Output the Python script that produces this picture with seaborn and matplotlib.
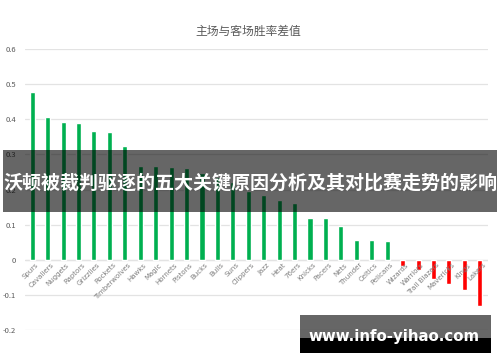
import matplotlib
matplotlib.use("Agg")
import matplotlib.pyplot as plt
import seaborn as sns
import pandas as pd
from matplotlib.patches import Rectangle

teams = ["Spurs", "Cavaliers", "Nuggets", "Raptors", "Grizzlies", "Rockets", "Timberwolves",
         "Hawks", "Magic", "Hornets", "Pistons", "Bucks", "Bulls", "Suns", "Clippers", "Jazz",
         "Heat", "76ers", "Knicks", "Pacers", "Nets", "Thunder", "Celtics", "Pelicans",
         "Wizards", "Warriors", "Trail Blazers", "Mavericks", "Kings", "Lakers"]
values = [0.478, 0.406, 0.392, 0.389, 0.366, 0.364, 0.325,
          0.267, 0.267, 0.265, 0.262, 0.248, 0.235, 0.222, 0.195, 0.185,
          0.170, 0.163, 0.120, 0.118, 0.097, 0.055, 0.055, 0.052,
          -0.017, -0.028, -0.055, -0.068, -0.087, -0.133]
yticks = [-0.2, -0.1, 0, 0.1, 0.2, 0.3, 0.4, 0.5, 0.6]
ytick_labels = ["-0.2", "-0.1", "0", "0.1", "0.2", "0.3", "0.4", "0.5", "0.6"]
title = "主场与客场胜率差值"
banner = "沃顿被裁判驱逐的五大关键原因分析及其对比赛走势的影响"
watermark = "www.info-yihao.com"

sns.set_theme(style="white")
plt.rcParams['font.family'] = ['Noto Sans CJK SC', 'DejaVu Sans']

df = pd.DataFrame({"team": teams, "value": values})
colors = ["#00b050" if v >= 0 else "#ff0000" for v in values]

fig = plt.figure(figsize=(5.0, 3.62), dpi=100)
ax = fig.add_axes([0.049, 0.0884, 0.926, 0.7762])

sns.barplot(data=df, x="team", y="value", hue="team", palette=colors, width=0.33,
            legend=False, ax=ax, saturation=1)

ax.set_xlim(-0.5, 29.5)
ax.set_ylim(-0.2, 0.6)
ax.set_yticks(yticks)
ax.set_yticklabels(ytick_labels)
ax.yaxis.grid(True, color="#e3e3e3", linewidth=0.9)
ax.set_axisbelow(True)
for s in ax.spines.values():
    s.set_visible(False)
ax.tick_params(axis="y", length=0, pad=6, labelsize=5.5, labelcolor="#595959")
ax.set_xticks([])
ax.set_xlabel("")
ax.set_ylabel("")
ax.axhline(0, color="#d9d9d9", linewidth=0.9, zorder=0.5)

for i, t in enumerate(teams):
    ax.text(i + 0.2, -0.006, t, rotation=45, ha="right", va="top",
            rotation_mode="anchor", fontsize=5.0, color="#7f7f7f",
            family=["DejaVu Sans"])

fig.text(0.497, 0.912, title, ha="center", va="center", fontsize=8.5, color="#595959")

# banner overlay
fig.add_artist(Rectangle((3 / 500, 1 - 212 / 362), 494 / 500, 62 / 362,
                         transform=fig.transFigure, facecolor="black", alpha=0.6,
                         edgecolor="none", zorder=5))
fig.text(0.5, 1 - 183 / 362, banner, ha="center", va="center", fontsize=13.7,
         color="white", fontweight="bold", zorder=6)

# watermark
fig.add_artist(Rectangle((300 / 500, 1 - 353 / 362), 191 / 500, 38 / 362,
                         transform=fig.transFigure, facecolor="black", alpha=0.6,
                         edgecolor="none", zorder=5))
fig.add_artist(Rectangle((300 / 500, 1 - 353 / 362), 191 / 500, 15 / 362,
                         transform=fig.transFigure, facecolor="black", alpha=1.0,
                         edgecolor="none", zorder=5))
fig.text(394.5 / 500, 1 - 336.5 / 362, watermark, ha="center", va="center", fontsize=10.8,
         color="white", fontweight="bold", zorder=6, family=["DejaVu Sans"])

fig.savefig("out.png", dpi=100)
